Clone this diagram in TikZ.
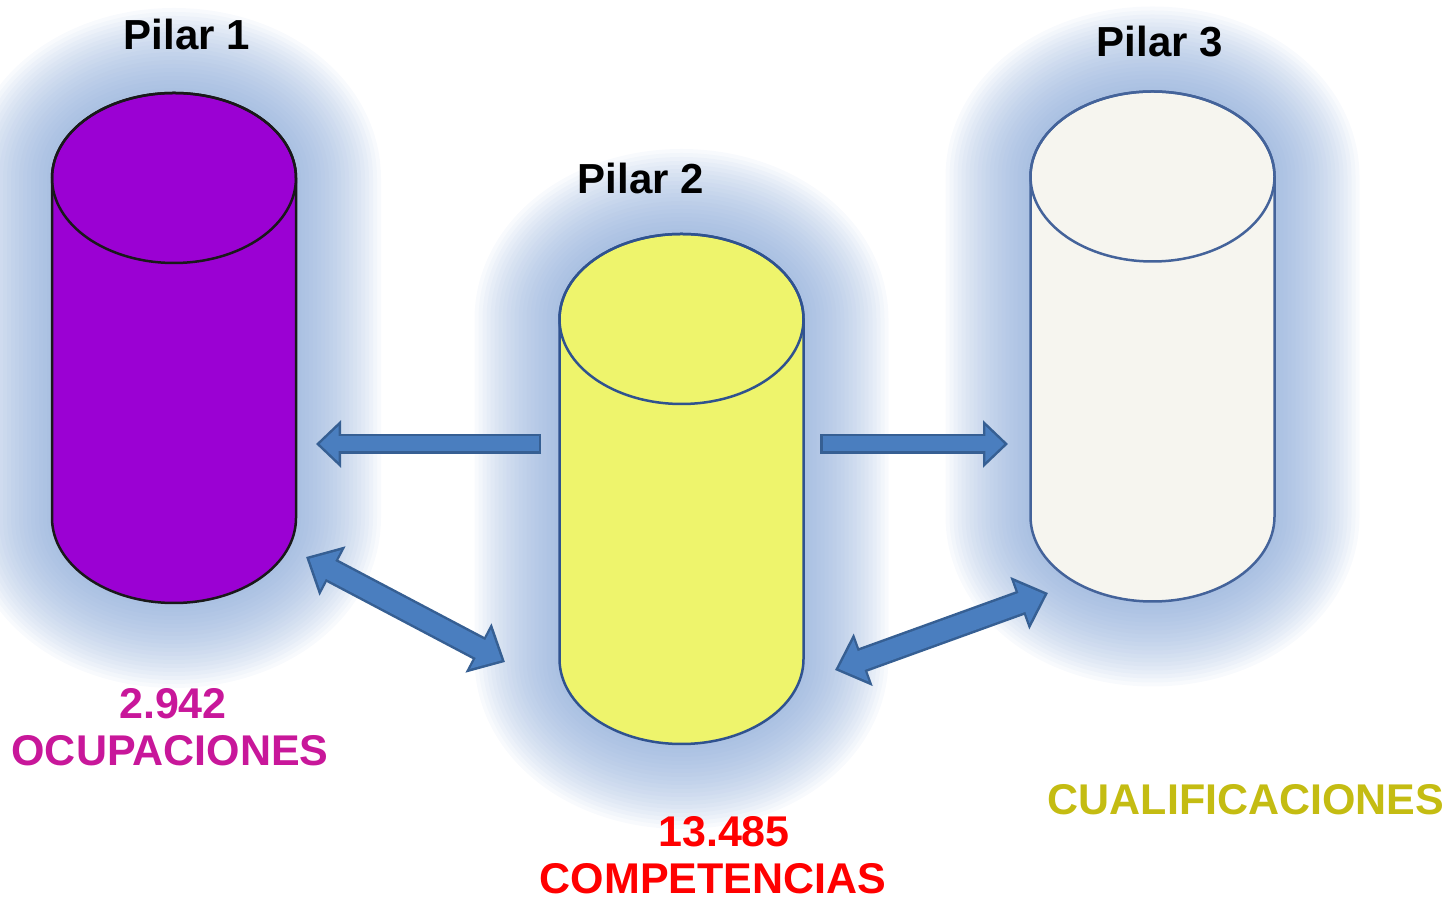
\documentclass[tikz,border=0pt]{standalone}
\usepackage{fontspec}
\setmainfont{Liberation Sans}
\usetikzlibrary{arrows.meta}

\definecolor{violeta}{HTML}{9B01D3}
\definecolor{amarillo}{HTML}{EEF46C}
\definecolor{marfil}{HTML}{F6F5EF}
\definecolor{bordeazul}{HTML}{2F528F}
\definecolor{halo azul}{HTML}{86A6D6}
\definecolor{flecha relleno}{HTML}{4A7EBF}
\definecolor{flecha borde}{HTML}{365F93}
\definecolor{magenta texto}{HTML}{C8179A}
\definecolor{rojo texto}{HTML}{FF0000}
\definecolor{oliva texto}{HTML}{C4BC12}

% silhouette of a pillar, from its body node
\newcommand\silueta[1]{(#1.north west) -- (#1.south west)
  arc[start angle=180,end angle=360,x radius=122pt,y radius=85pt]
  -- (#1.north east)
  arc[start angle=0,end angle=180,x radius=122pt,y radius=85pt] -- cycle}

\begin{document}
\begin{tikzpicture} [
  x=1pt, y=1pt,
  body/.style= {inner sep=0, outer sep=0, minimum width=244pt, minimum height=340pt},
  halo/.style= {draw=halo azul, draw opacity=0.055, line join=round},
  cyl edge/.style= {line width=2.5pt},
  flecha out/.style= {draw=flecha borde},
  flecha in/.style= {draw=flecha relleno},
  titulo/.style= {font=\fontsize{42}{47}\selectfont\bfseries, anchor=base, inner sep=0},
  etiqueta/.style= {font=\fontsize{43}{47}\selectfont\bfseries, anchor=base, inner sep=0},
]
\useasboundingbox (0,0) rectangle (1447,901);

% pillar bodies
\node (p1) [body] at (174,553) {};
\node (p2) [body] at (681.5,412) {};
\node (p3) [body] at (1152.5,554.5) {};

% glow
\foreach \p in {p1,p2,p3}
  \foreach \w in {170,162,...,10}
    \draw [halo, line width=\w pt] \silueta{\p};

% cylinders
\draw [cyl edge, fill=violeta, draw=black!90] \silueta{p1};
\draw [cyl edge, draw=black!90] (p1.north) ellipse [x radius=122pt, y radius=85pt];
\draw [cyl edge, fill=amarillo, draw=bordeazul] \silueta{p2};
\draw [cyl edge, draw=bordeazul] (p2.north) ellipse [x radius=122pt, y radius=85pt];
\draw [cyl edge, fill=marfil, draw=bordeazul!90!white] \silueta{p3};
\draw [cyl edge, draw=bordeazul!90!white] (p3.north) ellipse [x radius=122pt, y radius=85pt];

% arrow ends
\coordinate (l2) at (541,457);
\coordinate (l1) at (316,457);
\coordinate (r2) at (820,457);
\coordinate (r3) at (1008,457);
\coordinate (d1a) at (306,344);
\coordinate (d1b) at (505,239);
\coordinate (d2a) at (835,231);
\coordinate (d2b) at (1048,308);

\foreach \a/\b in {l2/l1, r2/r3} {
  \draw [flecha out, line width=20pt, -{Triangle[width=46pt,length=25pt]}] (\a) -- (\b);
  \draw [flecha in, line width=15pt, shorten <=2.5pt, shorten >=3.7pt,
    -{Triangle[width=35pt,length=19pt]}] (\a) -- (\b);
}
\foreach \a/\b in {d1a/d1b, d2a/d2b} {
  \draw [flecha out, line width=25pt,
    {Triangle[width=54pt,length=30pt]}-{Triangle[width=54pt,length=30pt]}] (\a) -- (\b);
  \draw [flecha in, line width=20pt, shorten <=3.7pt, shorten >=3.7pt,
    {Triangle[width=43pt,length=24pt]}-{Triangle[width=43pt,length=24pt]}] (\a) -- (\b);
}

% labels
\node (t1) [titulo] at (187,851) {Pilar 1};
\node (t2) [titulo] at (641,707) {Pilar 2};
\node (t3) [titulo] at (1160,844) {Pilar 3};
\node (n1) [etiqueta, text=magenta texto] at (173,182) {2.942};
\node (o1) [etiqueta, text=magenta texto] at (170,135) {OCUPACIONES};
\node (n2) [etiqueta, text=rojo texto] at (724,54) {13.485};
\node (o2) [etiqueta, text=rojo texto] at (713,7) {COMPETENCIAS};
\node (o3) [etiqueta, text=oliva texto] at (1246,86) {CUALIFICACIONES};

\end{tikzpicture}
\end{document}
